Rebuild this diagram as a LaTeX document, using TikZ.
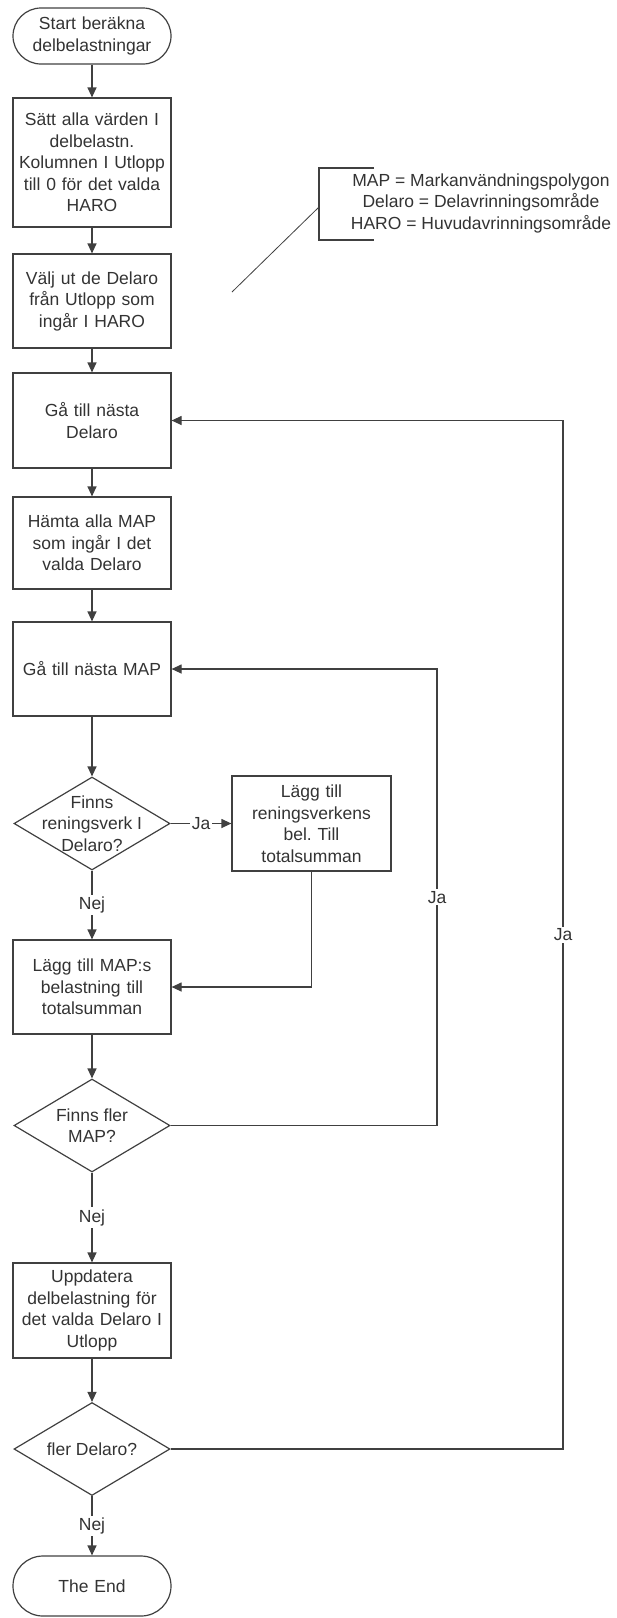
\documentclass[tikz,border=0pt]{standalone}
\usepackage{fontspec}
\setmainfont{Liberation Sans}
\usetikzlibrary{arrows.meta,shapes.geometric}
\definecolor{ink}{HTML}{404040}
\definecolor{txt}{HTML}{333333}
\frenchspacing

\begin{document}
\begin{tikzpicture}[x=1pt,y=-1pt,
  every node/.style={font=\fontsize{17.5}{21.5}\selectfont, text=txt},
  proc/.style={draw=ink, line width=1.2pt, minimum width=158pt, text width=156pt,
               align=center, inner sep=0pt},
  term/.style={proc, rounded corners=28pt, minimum height=56pt},
  decision/.style={draw=ink, line width=1.2pt, diamond, minimum width=156pt,
                   minimum height=93pt, inner sep=0pt},
  flow/.style={draw=ink, line width=1.2pt, -{Triangle[length=10pt,width=9pt]}},
  link/.style={draw=ink, line width=1.2pt},
  lbl/.style={fill=white, inner sep=2pt},
]
\useasboundingbox (0,0) rectangle (617,1618);

% main column
\node[term] (start) at (92,36) {Start beräkna\\delbelastningar};
\node[proc, minimum height=129pt] (init) at (92,162.5)
  {Sätt alla värden I\\delbelastn.\\Kolumnen I Utlopp\\till 0 för det valda\\HARO};
\node[proc, minimum height=94pt] (sel) at (92,301)
  {Välj ut de Delaro\\från Utlopp som\\ingår I HARO};
\node[proc, minimum height=95pt] (nextd) at (92,420.5) {Gå till nästa\\Delaro};
\node[proc, minimum height=92pt] (fetch) at (92,543)
  {Hämta alla MAP\\som ingår I det\\valda Delaro};
\node[proc, minimum height=94pt] (nextm) at (92,669) {Gå till nästa MAP};
\node[decision, label={[align=center]center:Finns\\reningsverk I\\Delaro?}] (d1) at (92,823.5) {};
\node[proc, minimum height=95pt, minimum width=159pt, text width=157pt] (plant) at (311.5,823.5)
  {Lägg till\\reningsverkens\\bel. Till\\totalsumman};
\node[proc, minimum height=94pt] (add) at (92,987)
  {Lägg till MAP:s\\belastning till\\totalsumman};
\node[decision, label={[align=center]center:Finns fler\\MAP?}] (d2) at (92,1125.5) {};
\node[proc, minimum height=95pt] (upd) at (92,1310.5)
  {Uppdatera\\delbelastning för\\det valda Delaro I\\Utlopp};
\node[decision, label={center:fler Delaro?}] (d3) at (92,1449) {};
\node[term, minimum height=60pt, rounded corners=30pt] (stop) at (92,1586) {The End};

% columns of the two return loops
\coordinate (mapx) at (437,0);
\coordinate (delx) at (563,0);

% connectors
\draw[flow] (start.south) -- (init.north);
\draw[flow] (init.south) -- (sel.north);
\draw[flow] (sel.south) -- (nextd.north);
\draw[flow] (nextd.south) -- (fetch.north);
\draw[flow] (fetch.south) -- (nextm.north);
\draw[flow] (nextm.south) -- (d1.north);
\draw[flow] (d1.east) -- node[lbl]{Ja} (plant.west);
\draw[flow] (d1.south) -- node[lbl]{Nej} (add.north);
\draw[flow] (plant.south) |- (add.east);
\draw[flow] (add.south) -- (d2.north);
\draw[flow] (d2.south) -- node[lbl]{Nej} (upd.north);
\draw[flow] (d2.east) -- (d2.east -| mapx) -- node[lbl]{Ja} (nextm.east -| mapx) -- (nextm.east);
\draw[flow] (upd.south) -- (d3.north);
\draw[flow] (d3.south) -- node[lbl]{Nej} (stop.north);
\draw[flow] (d3.east) -- (d3.east -| delx) -- node[lbl]{Ja} (nextd.east -| delx) -- (nextd.east);

% legend with its bracket and pointer
\node[align=center] (legend) at (481,203)
  {MAP = Markanvändningspolygon\\Delaro = Delavrinningsområde\\HARO = Huvudavrinningsområde};
\coordinate (brtop) at (374,168);
\coordinate (brbot) at (374,240);
\coordinate (brmid) at (319,207);
\coordinate (tail) at (232,292);
\draw[link] (brtop) -- (brtop -| brmid) -- (brbot -| brmid) -- (brbot);
\draw[draw=ink, line width=0.8pt] (tail) -- (brmid);
\end{tikzpicture}
\end{document}
